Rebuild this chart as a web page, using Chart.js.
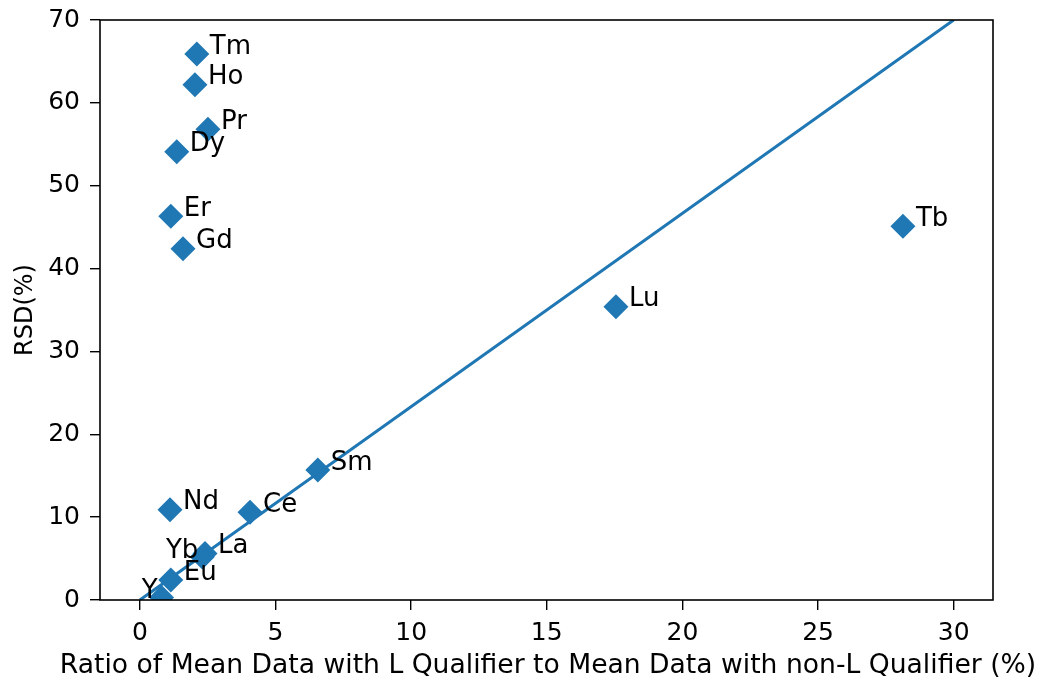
<!DOCTYPE html>
<html>
<head>
<meta charset="utf-8">
<script src="https://cdn.jsdelivr.net/npm/chart.js@4"></script>
<style>
  body { margin: 0; background: #fff; }
</style>
</head>
<body>
<canvas id="myChart" width="1042" height="684"></canvas>
<script>
// element labels and their values
const elements = ["Tm", "Ho", "Pr", "Dy", "Er", "Gd", "Tb", "Lu", "Sm", "Ce", "Nd", "La", "Yb", "Eu", "Y"];
const ratioL = [2.10, 2.03, 2.51, 1.36, 1.14, 1.59, 28.13, 17.55, 6.56, 4.06, 1.11, 2.40, 2.30, 1.14, 0.80];
const rsd = [65.9, 62.2, 56.8, 54.1, 46.3, 42.4, 45.1, 35.4, 15.7, 10.6, 10.9, 5.6, 5.2, 2.4, 0.3];

// reference line
const fitX = [0, 30];
const fitY = [0, 70];

const xTicks = [0, 5, 10, 15, 20, 25, 30];
const yTicks = [0, 10, 20, 30, 40, 50, 60, 70];

const xTitle = "Ratio of Mean Data with L Qualifier to Mean Data with non-L Qualifier (%)";

const blue = "#1f77b4";
const FONT = "DejaVu Sans";

// labels that sit on the left side of their point
const leftLabels = ["Y", "Yb"];

const labelPlugin = {
  id: "pointLabels",
  afterDatasetsDraw(chart) {
    const ctx = chart.ctx;
    const meta = chart.getDatasetMeta(0);
    ctx.save();
    ctx.font = "26px '" + FONT + "'";
    ctx.fillStyle = "#000";
    ctx.textBaseline = "middle";
    meta.data.forEach((pt, i) => {
      const name = elements[i];
      if (leftLabels.includes(name)) {
        ctx.textAlign = "right";
        ctx.fillText(name, pt.x - 4, pt.y - 6);
      } else {
        ctx.textAlign = "left";
        ctx.fillText(name, pt.x + 13, pt.y - 7);
      }
    });
    ctx.restore();
  },
};

// frame + x title (the title is wider than the plot, chart.js would squeeze it)
const framePlugin = {
  id: "frame",
  afterDraw(chart) {
    const a = chart.chartArea;
    const ctx = chart.ctx;
    ctx.save();
    ctx.strokeStyle = "#000";
    ctx.lineWidth = 1.6;
    ctx.strokeRect(a.left, a.top, a.right - a.left, a.bottom - a.top);
    ctx.font = "26.6px '" + FONT + "'";
    ctx.fillStyle = "#000";
    ctx.textAlign = "center";
    ctx.textBaseline = "middle";
    ctx.fillText(xTitle, 548, 666);
    ctx.restore();
  },
};

const data = {
  datasets: [
    {
      type: "scatter",
      data: elements.map((e, i) => ({ x: ratioL[i], y: rsd[i] })),
      backgroundColor: blue,
      borderColor: blue,
      borderWidth: 0,
      pointStyle: "rectRot",
      pointRadius: 12.5,
      pointHoverRadius: 12.5,
    },
    {
      type: "line",
      data: fitX.map((x, i) => ({ x: x, y: fitY[i] })),
      borderColor: blue,
      borderWidth: 3,
      pointRadius: 0,
      fill: false,
    },
  ],
};

const tickFont = { family: FONT, size: 25 };

const config = {
  type: "scatter",
  data: data,
  options: {
    responsive: false,
    animation: false,
    devicePixelRatio: 1,
    layout: { padding: { top: 20, right: 49, left: 0, bottom: 0 } },
    plugins: { legend: { display: false }, tooltip: { enabled: false } },
    scales: {
      x: {
        type: "linear",
        min: -1.47,
        max: 31.45,
        afterBuildTicks: (s) => { s.ticks = xTicks.map((v) => ({ value: v })); },
        afterFit: (s) => { s.height = 84; s.paddingLeft = 0; s.paddingRight = 0; },
        ticks: { font: tickFont, color: "#000", padding: 8, includeBounds: false, maxRotation: 0 },
        grid: { drawOnChartArea: false, tickLength: 10, color: "#000", lineWidth: 1.4 },
        border: { display: false },
        title: { display: false },
      },
      y: {
        type: "linear",
        min: 0,
        max: 70,
        afterBuildTicks: (s) => { s.ticks = yTicks.map((v) => ({ value: v })); },
        afterFit: (s) => { s.width = 100; s.paddingTop = 0; s.paddingBottom = 0; },
        ticks: { font: tickFont, color: "#000", padding: 10 },
        grid: { drawOnChartArea: false, tickLength: 10, color: "#000", lineWidth: 1.4 },
        border: { display: false },
        title: {
          display: true,
          text: "RSD(%)",
          font: { family: FONT, size: 24 },
          color: "#000",
          padding: { top: 11, bottom: 0 },
        },
      },
    },
  },
  plugins: [labelPlugin, framePlugin],
};

var myChart = new Chart(document.getElementById("myChart"), config);
</script>
</body>
</html>
